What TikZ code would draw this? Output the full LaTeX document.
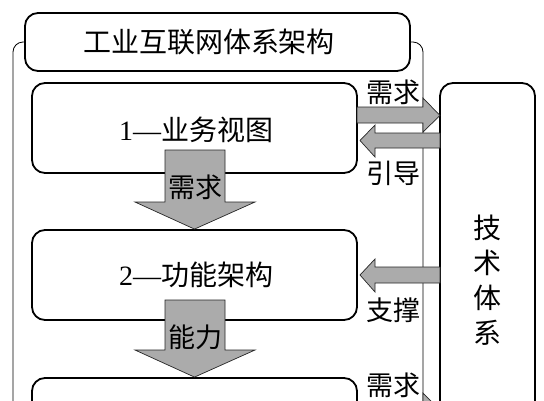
\documentclass[tikz,border=0pt]{standalone}
\usepackage{fontspec}
\setmainfont{Liberation Serif}
\newfontfamily\cjk{Noto Sans CJK SC}
\definecolor{arrowgray}{HTML}{ABABAB}
\usetikzlibrary{calc}
\tikzset{
  box/.style={draw, line width=1.8pt, rounded corners=13pt, fill=white, inner sep=0pt},
  blockarrow/.style={draw=black!85, line width=0.7pt, fill=arrowgray},
  lbl/.style={font=\cjk\fontsize{27}{27}\selectfont, inner sep=0pt},
  boxtext/.style={font=\fontsize{28}{28}\selectfont, inner sep=0pt},
}
\begin{document}
\begin{tikzpicture}[x=1pt,y=-1pt]
\useasboundingbox (0,0) rectangle (544,400);
\clip (0,0) rectangle (544,400);
% outer thin frame
\coordinate (fbl) at (13,470);
\coordinate (fbr) at (423,470);
\draw[line width=0.8pt, rounded corners=10pt] (fbl) -- (13,42) -- (423,42) -- (fbr);
% title
\node[box, minimum width=385pt, minimum height=58pt] (title) at (217.5,42) {};
\node[boxtext] (titletext) at (209,42) {\cjk 工业互联网体系架构};
% boxes
\node[box, minimum width=325pt, minimum height=90pt] (b1) at (194.5,128) {};
\node[boxtext] (b1text) at (196,130) {1—{\cjk 业务视图}};
\node[box, minimum width=325pt, minimum height=90pt] (b2) at (194.5,275) {};
\node[boxtext] (b2text) at (196,275) {2—{\cjk 功能架构}};
\node[box, minimum width=325pt, minimum height=90pt] (b3) at (194.5,423) {};
\node[box, minimum width=95pt, minimum height=397pt] (tech) at (487.5,281.5) {};
\node[align=center, inner sep=0pt, font=\cjk\fontsize{28}{35}\selectfont] (techtext) at (487,280) {技\\术\\体\\系};
% down arrows
\draw[blockarrow] (165,150) -- (225,150) -- (225,202) -- (255,202) -- (b2.north) -- (135,202) -- (165,202) -- cycle;
\node[lbl] (d1) at (195,187) {需求};
\draw[blockarrow] (165,300) -- (225,300) -- (225,350) -- (255,350) -- (b3.north) -- (135,350) -- (165,350) -- cycle;
\node[lbl] (d2) at (195,337) {能力};
% horizontal arrows
\draw[blockarrow] (357,107) -- (423,107) -- (423,98) -- (440,115.5) -- (423,132) -- (423,123) -- (357,123) -- cycle;
\node[lbl] (r1) at (393,92) {需求};
\draw[blockarrow] (440,133) -- (375,133) -- (375,125) -- (360,140.5) -- (375,157) -- (375,148) -- (440,148) -- cycle;
\node[lbl] (l1) at (393,173) {引导};
\draw[blockarrow] (440,267) -- (375,267) -- (375,259) -- (360,275) -- (375,292) -- (375,283) -- (440,283) -- cycle;
\node[lbl] (l2) at (393,310) {支撑};
\draw[blockarrow] (357,402) -- (423,402) -- (423,393) -- (440,410.5) -- (423,427) -- (423,418) -- (357,418) -- cycle;
\node[lbl] (r2) at (393,385) {需求};
\end{tikzpicture}
\end{document}
